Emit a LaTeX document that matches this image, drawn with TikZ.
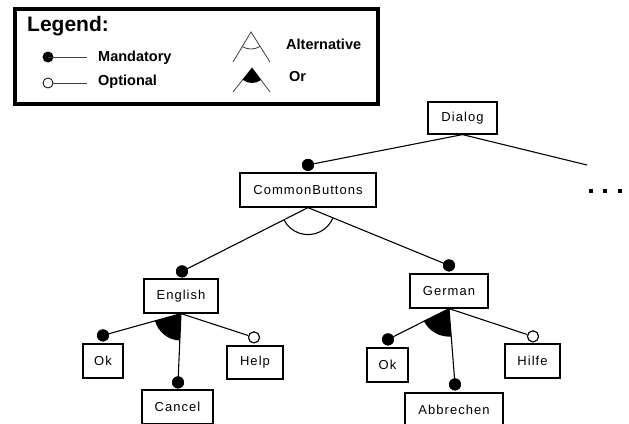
\documentclass[tikz,border=0pt]{standalone}
\usepackage{fontspec}
\setmainfont{Liberation Sans}
\newfontfamily\boxfont[LetterSpace=8]{Liberation Sans}
\usetikzlibrary{calc}
\begin{document}
\begin{tikzpicture}[x=1pt,y=-1pt,
  feat/.style={draw, line width=1.2pt, fill=white, minimum height=34pt, inner sep=0pt,
    font={\boxfont\fontsize{13pt}{15pt}\selectfont}},
  mand/.style={circle, fill=black, minimum size=12pt, inner sep=0pt},
  opt/.style={circle, draw, fill=white, line width=1pt, minimum size=11pt, inner sep=0pt},
  conn/.style={line width=1.1pt},
  legline/.style={line width=0.8pt, black!75},
  legtext/.style={anchor=west, inner sep=0pt, font={\bfseries\fontsize{14.5pt}{16pt}\selectfont}}
]
\useasboundingbox (0,0) rectangle (629,423);
\clip (0,0) rectangle (629,423);

% ---------- legend ----------
\draw[line width=4pt] (14.5,8.5) rectangle (378,104);
\node[legtext, font={\bfseries\fontsize{21pt}{24pt}\selectfont}] (legtitle) at (27,26) {Legend:};
\node[mand, minimum size=11pt] (lmand) at (48,57) {};
\coordinate (lmandend) at (87,57);
\draw[legline] (lmand.center) -- (lmandend);
\node[legtext] (tmand) at (98,58) {Mandatory};
\coordinate (loptend) at (87,83);
\node[opt, minimum size=10pt, line width=0.8pt] (lopt) at (48,83) {};
\draw[legline] (lopt.east) -- (loptend);
\node[legtext] (topt) at (98,82) {Optional};

\coordinate (altA) at (251,32);
\coordinate (altL) at (233,62);
\coordinate (altR) at (270,62);
\draw[legline] (altL) -- (altA) -- (altR);
\draw[legline] let \p1=($(altL)-(altA)$), \p2=($(altR)-(altA)$),
  \n1={atan2(\y1,\x1)}, \n2={atan2(\y2,\x2)} in
  (altA) ++(\n1:17pt) arc[start angle=\n1, end angle=\n2, radius=17pt];
\node[legtext] (talt) at (286,44) {Alternative};

\coordinate (orA) at (252,68);
\coordinate (orL) at (233,92);
\coordinate (orR) at (270,92);
\draw[legline] (orL) -- (orA) -- (orR);
\fill let \p1=($(orL)-(orA)$), \p2=($(orR)-(orA)$),
  \n1={atan2(\y1,\x1)}, \n2={atan2(\y2,\x2)} in
  (orA) -- ++(\n1:15pt) arc[start angle=\n1, end angle=\n2, radius=15pt] -- cycle;
\node[legtext] (tor) at (289,77) {Or};

% ---------- feature boxes ----------
\node[feat, minimum width=69pt, minimum height=32pt] (dialog) at (462.5,118) {Dialog};
\node[feat, minimum width=136pt] (cb) at (308,190) {CommonButtons};
\node[feat, minimum width=74pt] (eng) at (181,296) {English};
\node[feat, minimum width=78pt] (ger) at (449,291) {German};
\node[feat, minimum width=40pt] (ok1) at (103,361) {Ok};
\node[feat, minimum width=71pt] (cancel) at (177.5,407) {Cancel};
\node[feat, minimum width=56pt, minimum height=33pt] (help) at (255,362.5) {Help};
\node[feat, minimum width=41pt] (ok2) at (387.5,365) {Ok};
\node[feat, minimum width=98pt] (abbr) at (454,410) {Abbrechen};
\node[feat, minimum width=55pt] (hilfe) at (532.5,361) {Hilfe};

% ---------- dots ----------
\node[mand] (dcb) at ($(cb.north)+(0,-7.5)$) {};
\node[mand] (deng) at ($(eng.north)+(1,-7)$) {};
\node[mand] (dger) at ($(ger.north)+(0,-8)$) {};
\node[mand] (dok1) at ($(ok1.north)+(0,-8)$) {};
\node[mand] (dcancel) at ($(cancel.north)+(0.5,-7)$) {};
\node[mand] (dok2) at ($(ok2.north)+(0.5,-8)$) {};
\node[mand] (dabbr) at ($(abbr.north)+(1,-8)$) {};
\node[opt] (dhelp) at ($(help.north)+(-1,-8)$) {};
\node[opt] (dhilfe) at ($(hilfe.north)+(0.5,-7)$) {};

\coordinate (more) at (587,165);

% ---------- connectors ----------
\draw[conn] (dialog.south) -- (dcb.center);
\draw[conn] (dialog.south) -- (more);
\draw[conn] (cb.south) -- (deng.center);
\draw[conn] (cb.south) -- (dger.center);
\draw[conn] (eng.south) -- (dok1.center);
\draw[conn] (eng.south) -- (dcancel.center);
\draw[conn] (eng.south) -- (dhelp);
\draw[conn] (ger.south) -- (dok2.center);
\draw[conn] (ger.south) -- (dabbr.center);
\draw[conn] (ger.south) -- (dhilfe);

% alternative group under CommonButtons
\draw[conn] let \p1=($(deng)-(cb.south)$), \p2=($(dger)-(cb.south)$),
  \n1={atan2(\y1,\x1)}, \n2={atan2(\y2,\x2)} in
  (cb.south) ++(\n1:27pt) arc[start angle=\n1, end angle=\n2, radius=27pt];

% or groups
\fill let \p1=($(dok1)-(eng.south)$), \p2=($(dcancel)-(eng.south)$),
  \n1={atan2(\y1,\x1)}, \n2={atan2(\y2,\x2)} in
  (eng.south) -- ++(\n1:27pt) arc[start angle=\n1, end angle=\n2, radius=27pt] -- cycle;
\fill let \p1=($(dok2)-(ger.south)$), \p2=($(dabbr)-(ger.south)$),
  \n1={atan2(\y1,\x1)}, \n2={atan2(\y2,\x2)} in
  (ger.south) -- ++(\n1:28pt) arc[start angle=\n1, end angle=\n2, radius=28pt] -- cycle;

% redraw dots on top
\foreach \d in {dcb,deng,dger,dok1,dcancel,dok2,dabbr} {\fill (\d) circle (6pt);}
\foreach \d in {dhelp,dhilfe} {\draw[line width=1pt, fill=white] (\d) circle (5.5pt);}

% ellipsis
\foreach \xx in {591,605,620} {\fill (\xx-2,189) rectangle (\xx+2,193);}
\end{tikzpicture}
\end{document}
